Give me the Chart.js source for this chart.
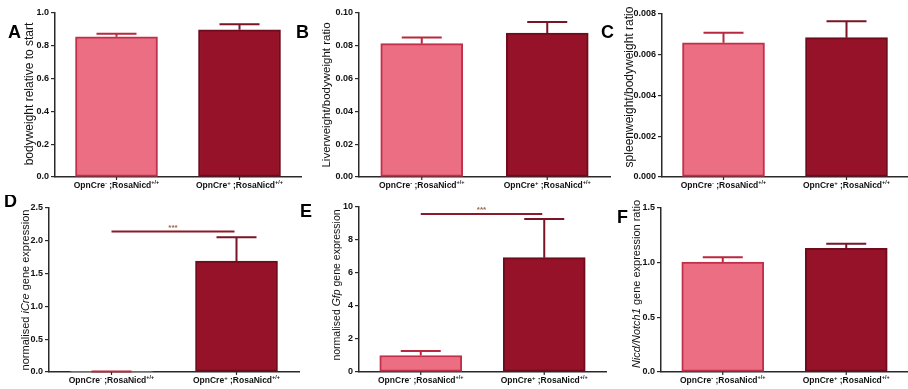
<!DOCTYPE html>
<html>
<head>
<meta charset="utf-8">
<script src="https://cdn.jsdelivr.net/npm/chart.js@4.4.1/dist/chart.umd.min.js"></script>
<style>
  body { margin: 0; background: #fff; }
  #wrap { position: relative; width: 908px; height: 389px; overflow: hidden; background: #fff; }
  canvas { position: absolute; }
</style>
</head>
<body>
<div id="wrap"></div>
<script>
// ---- data ----
const creSign = ["-", "+"];

const bodyweight = [0.855, 0.898];
const bodyweightSem = [0.018, 0.033];
const bodyTicks = [0, 0.2, 0.4, 0.6, 0.8, 1.0];

const liver = [0.0813, 0.0878];
const liverSem = [0.0037, 0.0067];
const liverTicks = [0, 0.02, 0.04, 0.06, 0.08, 0.10];

const spleen = [0.00659, 0.00684];
const spleenSem = [0.00049, 0.0008];
const spleenTicks = [0, 0.002, 0.004, 0.006, 0.008];

const iCre = [0.005, 1.69];
const iCreSem = [0.002, 0.366];
const iCreTicks = [0, 0.5, 1.0, 1.5, 2.0, 2.5];
const iCreSig = 2.14;

const gfp = [1.0, 6.93];
const gfpSem = [0.28, 2.34];
const gfpTicks = [0, 2, 4, 6, 8, 10];
const gfpSig = 9.57;

const nicd = [1.006, 1.131];
const nicdSem = [0.043, 0.043];
const nicdTicks = [0, 0.5, 1.0, 1.5];

// ---- styles ----
const FONT = "'Liberation Sans', Arial, sans-serif";
const fillCols = ["#EC6E83", "#961229"];
const edgeCols = ["#C0304B", "#6E0C1D"];
const errCols = ["#B8283F", "#7A1426"];
const axisCol = "#2a2a2a";

// box = canvas [left, top, width, height], area = plot [left, top, right, bottom] (page px)
const panels = [
  { letter: "A", lx: 8, ly: 38, values: bodyweight, sem: bodyweightSem, ticks: bodyTicks, dec: 1,
    title: [["bodyweight relative to start", false]], tsize: 12, tx: 30, ty: 94,
    box: [0, 0, 306, 195], area: [55, 13, 301, 177] },
  { letter: "B", lx: 296, ly: 38, values: liver, sem: liverSem, ticks: liverTicks, dec: 2,
    title: [["Liverweight/bodyweight ratio", false]], tsize: 11.5, tx: 327, ty: 95,
    box: [294, 0, 320, 195], area: [359, 13, 610, 177] },
  { letter: "C", lx: 601, ly: 38, values: spleen, sem: spleenSem, ticks: spleenTicks, dec: 3,
    title: [["spleenweight/bodyweight ratio", false]], tsize: 12, tx: 630, ty: 87,
    box: [596, 0, 312, 195], area: [662, 14, 908, 177] },
  { letter: "D", lx: 4, ly: 207, values: iCre, sem: iCreSem, ticks: iCreTicks, dec: 1, sig: iCreSig,
    title: [["normalised ", false], ["iCre", true], [" gene expression", false]], tsize: 11, tx: 26, ty: 290,
    box: [0, 195, 306, 194], area: [49, 208, 299, 372] },
  { letter: "E", lx: 300, ly: 217, values: gfp, sem: gfpSem, ticks: gfpTicks, dec: 0, sig: gfpSig,
    title: [["normalised ", false], ["Gfp", true], [" gene expression", false]], tsize: 10.5, tx: 337, ty: 285,
    box: [294, 195, 320, 194], area: [359, 207, 606, 372] },
  { letter: "F", lx: 617, ly: 223, values: nicd, sem: nicdSem, ticks: nicdTicks, dec: 1,
    title: [["Nicd/Notch1", true], [" gene expression ratio", false]], tsize: 11, tx: 637, ty: 284,
    box: [596, 195, 312, 194], area: [661, 208, 908, 372] }
];

// ---- error bars, labels, titles ----
const panelPlugin = {
  id: "panel",
  afterDatasetsDraw(chart, args, p) {
    const ctx = chart.ctx;
    const y = chart.scales.y;
    const meta = chart.getDatasetMeta(0);
    meta.data.forEach((el, i) => {
      const top = y.getPixelForValue(p.values[i] + p.sem[i]);
      ctx.save();
      ctx.strokeStyle = errCols[i];
      ctx.lineWidth = 2;
      ctx.beginPath();
      ctx.moveTo(el.x, el.y);
      ctx.lineTo(el.x, top);
      ctx.moveTo(el.x - 20, top);
      ctx.lineTo(el.x + 20, top);
      ctx.stroke();
      ctx.restore();
    });
  },
  afterDraw(chart, args, p) {
    const ctx = chart.ctx;
    const ox = p.box[0], oy = p.box[1];
    const area = chart.chartArea;
    const meta = chart.getDatasetMeta(0);
    ctx.save();

    // category ticks + labels with superscripts
    meta.data.forEach((el, i) => {
      ctx.strokeStyle = axisCol;
      ctx.lineWidth = 1.2;
      ctx.beginPath();
      ctx.moveTo(el.x, area.bottom);
      ctx.lineTo(el.x, area.bottom + 3);
      ctx.stroke();

      const parts = [["OpnCre", 8.5, 0], [creSign[i], 6, 3], [" ;RosaNicd", 8.5, 0], ["+/+", 5.5, 3.5]];
      let w = 0;
      parts.forEach(pt => { ctx.font = "bold " + pt[1] + "px " + FONT; w += ctx.measureText(pt[0]).width; });
      let x = el.x - w / 2;
      const base = area.bottom + 10.5;
      ctx.fillStyle = "#111";
      ctx.textBaseline = "alphabetic";
      ctx.textAlign = "left";
      parts.forEach(pt => {
        ctx.font = "bold " + pt[1] + "px " + FONT;
        ctx.fillText(pt[0], x, base - pt[2]);
        x += ctx.measureText(pt[0]).width;
      });
    });

    // significance line
    if (p.sig !== undefined) {
      const sy = chart.scales.y.getPixelForValue(p.sig);
      const x0 = meta.data[0].x, x1 = meta.data[1].x - 2;
      ctx.strokeStyle = "#8B1A2B";
      ctx.lineWidth = 2;
      ctx.beginPath();
      ctx.moveTo(x0, sy);
      ctx.lineTo(x1, sy);
      ctx.stroke();
      ctx.fillStyle = "#9a6448";
      ctx.font = "bold 8px " + FONT;
      ctx.textAlign = "center";
      ctx.textBaseline = "alphabetic";
      ctx.fillText("***", (x0 + x1) / 2, sy - 2);
    }

    // panel letter
    ctx.fillStyle = "#000";
    ctx.font = "bold 18px " + FONT;
    ctx.textAlign = "left";
    ctx.textBaseline = "alphabetic";
    ctx.fillText(p.letter, p.lx - ox, p.ly - oy);

    // rotated y title with italic pieces
    ctx.translate(p.tx - ox, p.ty - oy);
    ctx.rotate(-Math.PI / 2);
    let tw = 0;
    p.title.forEach(t => { ctx.font = (t[1] ? "italic " : "") + p.tsize + "px " + FONT; tw += ctx.measureText(t[0]).width; });
    let tx = -tw / 2;
    ctx.fillStyle = "#111";
    ctx.textBaseline = "middle";
    p.title.forEach(t => {
      ctx.font = (t[1] ? "italic " : "") + p.tsize + "px " + FONT;
      ctx.fillText(t[0], tx, 0);
      tx += ctx.measureText(t[0]).width;
    });
    ctx.restore();
  }
};

const wrap = document.getElementById("wrap");

panels.forEach(p => {
  const [bl, bt, bw, bh] = p.box;
  const [al, at, ar, ab] = p.area;
  const cv = document.createElement("canvas");
  cv.width = bw; cv.height = bh;
  cv.style.left = bl + "px"; cv.style.top = bt + "px";
  cv.style.width = bw + "px"; cv.style.height = bh + "px";
  wrap.appendChild(cv);

  new Chart(cv.getContext("2d"), {
    type: "bar",
    data: {
      labels: creSign.map(s => "OpnCre" + s + ";RosaNicd+/+"),
      datasets: [{
        data: p.values,
        backgroundColor: fillCols,
        borderColor: edgeCols,
        borderWidth: 2,
        borderSkipped: false,
        barThickness: 82
      }]
    },
    options: {
      responsive: false,
      animation: false,
      devicePixelRatio: 1,
      layout: { padding: { left: 0, top: at - bt, right: (bl + bw) - ar, bottom: 0 } },
      plugins: { legend: { display: false }, tooltip: { enabled: false }, panel: p },
      scales: {
        x: {
          ticks: { display: false },
          grid: { display: false },
          border: { color: axisCol, width: 1.5 },
          afterFit: s => { s.height = (bt + bh) - ab; }
        },
        y: {
          min: 0,
          max: p.ticks[p.ticks.length - 1],
          afterBuildTicks: s => { s.ticks = p.ticks.map(v => ({ value: v })); },
          ticks: {
            font: { family: FONT, size: 9, weight: "bold" },
            color: "#111",
            padding: 2,
            callback: v => Number(v).toFixed(p.dec)
          },
          grid: { drawOnChartArea: false, tickLength: 4, color: axisCol, lineWidth: 1.2 },
          border: { color: axisCol, width: 1.5 },
          afterFit: s => { s.width = al - bl; }
        }
      }
    },
    plugins: [panelPlugin]
  });
});
</script>
</body>
</html>
